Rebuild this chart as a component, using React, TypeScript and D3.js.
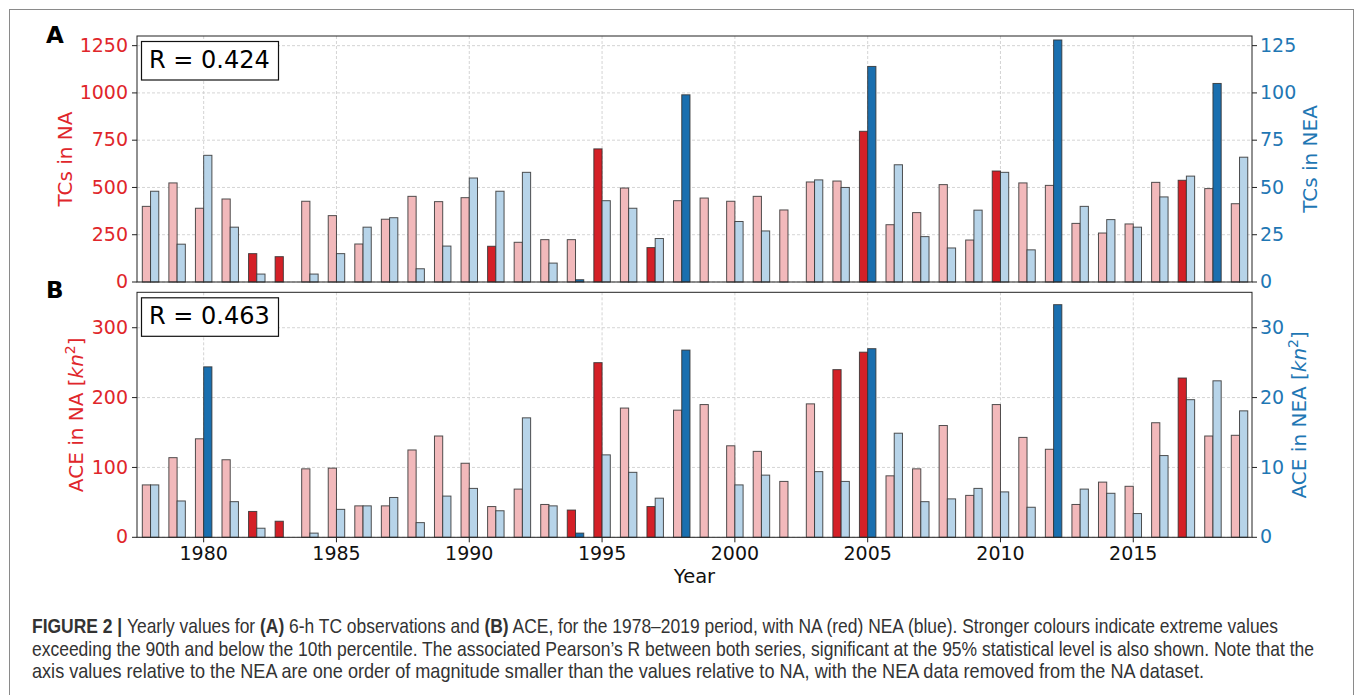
import * as d3 from "d3";

// years on the x axis
const years = [
  1978, 1979, 1980, 1981, 1982, 1983, 1984, 1985, 1986, 1987, 1988, 1989,
  1990, 1991, 1992, 1993, 1994, 1995, 1996, 1997, 1998, 1999,
  2000, 2001, 2002, 2003, 2004, 2005, 2006, 2007, 2008, 2009,
  2010, 2011, 2012, 2013, 2014, 2015, 2016, 2017, 2018, 2019,
];

// panel A: 6-h TC observations
const tcsNA = [
  400, 524, 390, 439, 150, 134, 427, 351, 201, 332, 453, 425,
  446, 189, 210, 224, 224, 704, 497, 182, 430, 444,
  427, 453, 381, 529, 534, 797, 303, 367, 515, 222,
  587, 524, 511, 310, 259, 307, 527, 538, 494, 414,
];
const tcsNEA = [
  48, 20, 67, 29, 4.2, 0, 4.2, 15, 29, 34, 7, 19,
  55, 48, 58, 10, 1.2, 43, 39, 23, 99, 0,
  32, 27, 0, 54, 50, 114, 62, 24, 18, 38,
  58, 17, 128, 40, 33, 29, 45, 56, 105, 66,
];
const tcsNAStrong = [1982, 1983, 1991, 1995, 1997, 2005, 2010, 2017];
const tcsNEAStrong = [1994, 1998, 2005, 2012, 2018];

// panel B: ACE
const aceNA = [
  75, 114, 141, 111, 37, 23, 98, 99, 45, 45, 125, 145,
  106, 44, 69, 47, 39, 250, 185, 44, 182, 190,
  131, 123, 80, 191, 240, 265, 88, 98, 160, 60,
  190, 143, 126, 47, 79, 73, 164, 228, 145, 146,
];
const aceNEA = [
  7.5, 5.2, 24.4, 5.1, 1.3, 0, 0.6, 4.0, 4.5, 5.7, 2.1, 5.9,
  7.0, 3.8, 17.1, 4.5, 0.6, 11.8, 9.3, 5.6, 26.8, 0,
  7.5, 8.9, 0, 9.4, 8.0, 27.0, 14.9, 5.1, 5.5, 7.0,
  6.5, 4.3, 33.3, 6.9, 6.3, 3.4, 11.7, 19.7, 22.4, 18.1,
];
const aceNAStrong = [1982, 1983, 1994, 1995, 1997, 2004, 2005, 2017];
const aceNEAStrong = [1980, 1994, 1998, 2005, 2012];

// ticks
const xTicks = [1980, 1985, 1990, 1995, 2000, 2005, 2010, 2015];
const tcsLeftTicks = [0, 250, 500, 750, 1000, 1250];
const tcsRightTicks = [0, 25, 50, 75, 100, 125];
const aceLeftTicks = [0, 100, 200, 300];
const aceRightTicks = [0, 10, 20, 30];

const captionLines = [
  [
    { t: "FIGURE 2 | ", b: true },
    { t: "Yearly values for ", b: false },
    { t: "(A)", b: true },
    { t: " 6-h TC observations and ", b: false },
    { t: "(B)", b: true },
    { t: " ACE, for the 1978\u20132019 period, with NA (red) NEA (blue). Stronger colours indicate extreme values", b: false },
  ],
  [{ t: "exceeding the 90th and below the 10th percentile. The associated Pearson\u2019s R between both series, significant at the 95% statistical level is also shown. Note that the", b: false }],
  [{ t: "axis values relative to the NEA are one order of magnitude smaller than the values relative to NA, with the NEA data removed from the NA dataset.", b: false }],
];
const captionLengths = [1246, 1282, 1172];

const RED = "#e0262b";
const BLUE = "#1f77b4";
const PINK = "#f2b9bb";
const STRONG_RED = "#d42027";
const LIGHT_BLUE = "#b7d4e9";
const STRONG_BLUE = "#1a6faf";
const FONT = "'DejaVu Sans', sans-serif";

const left = 137;
const right = 1252;
const barW = 0.31;
const x = d3.scaleLinear().domain([1977.49, 2019.47]).range([left, right]);

function AceLabel({ name }) {
  return (
    <>
      <tspan>{`ACE in ${name} [`}</tspan>
      <tspan fontStyle="italic">kn</tspan>
      <tspan dy={-8} fontSize={14}>2</tspan>
      <tspan dy={8}>]</tspan>
    </>
  );
}

function Panel({ top, bottom, na, nea, naStrong, neaStrong, lMax, rMax, lTicks, rTicks, rText, letter, letterY, boxY, showX, lLabelX, rLabelX, lLabel, rLabel }) {
  const yL = d3.scaleLinear().domain([0, lMax]).range([bottom, top]);
  const yR = d3.scaleLinear().domain([0, rMax]).range([bottom, top]);
  const mid = (top + bottom) / 2;

  return (
    <g>
      {/* grid */}
      {lTicks.map((d) => (
        <line key={"gy" + d} x1={left} x2={right} y1={yL(d)} y2={yL(d)} stroke="#cfcfcf" strokeWidth={0.9} strokeDasharray="3,2" />
      ))}
      {xTicks.map((d) => (
        <line key={"gx" + d} x1={x(d)} x2={x(d)} y1={top} y2={bottom} stroke="#cfcfcf" strokeWidth={0.9} strokeDasharray="3,2" />
      ))}

      {/* bars */}
      {years.map((yr, i) => (
        <rect
          key={"na" + yr}
          x={x(yr - barW)}
          width={x(yr) - x(yr - barW)}
          y={yL(na[i])}
          height={bottom - yL(na[i])}
          fill={naStrong.includes(yr) ? STRONG_RED : PINK}
          stroke="#333"
          strokeOpacity={0.85}
          strokeWidth={1}
        />
      ))}
      {years.map((yr, i) => (
        <rect
          key={"nea" + yr}
          x={x(yr)}
          width={x(yr + barW) - x(yr)}
          y={yR(nea[i])}
          height={bottom - yR(nea[i])}
          fill={neaStrong.includes(yr) ? STRONG_BLUE : LIGHT_BLUE}
          stroke="#333"
          strokeOpacity={0.85}
          strokeWidth={1}
        />
      ))}

      {/* spines */}
      <rect x={left} y={top} width={right - left} height={bottom - top} fill="none" stroke="#222" strokeWidth={1} />

      {/* left axis */}
      {lTicks.map((d) => (
        <g key={"lt" + d} transform={`translate(${left},${yL(d)})`}>
          <line x1={-5} x2={0} stroke="#222" />
          <text x={-9} dy="0.32em" textAnchor="end" fill={RED} fontFamily={FONT} fontSize={19}>{d}</text>
        </g>
      ))}
      {/* right axis */}
      {rTicks.map((d) => (
        <g key={"rt" + d} transform={`translate(${right},${yR(d)})`}>
          <line x1={0} x2={5} stroke="#222" />
          <text x={8} dy="0.32em" textAnchor="start" fill={BLUE} fontFamily={FONT} fontSize={19}>{d}</text>
        </g>
      ))}
      {/* bottom axis */}
      {showX &&
        xTicks.map((d) => (
          <g key={"xt" + d} transform={`translate(${x(d)},${bottom})`}>
            <line y1={0} y2={5} stroke="#222" />
            <text y={22.7} textAnchor="middle" fill="#111" fontFamily={FONT} fontSize={19}>{d}</text>
          </g>
        ))}

      {/* axis labels */}
      <text transform={`translate(${lLabelX},${mid}) rotate(-90)`} textAnchor="middle" fill={RED} fontFamily={FONT} fontSize={20}>
        {lLabel}
      </text>
      <text transform={`translate(${rLabelX},${mid}) rotate(-90)`} textAnchor="middle" fill={BLUE} fontFamily={FONT} fontSize={20}>
        {rLabel}
      </text>

      {/* panel letter */}
      <text x={46} y={letterY} fill="#000" fontFamily={FONT} fontWeight="bold" fontSize={23}>{letter}</text>

      {/* R box */}
      <rect x={141.5} y={boxY + 0.5} width={137} height={38.5} fill="#fff" stroke="#111" strokeWidth={1.2} />
      <text x={149} y={boxY + 26.5} fill="#000" fontFamily={FONT} fontSize={24}>{rText}</text>
    </g>
  );
}

export default function App() {
  return (
    <svg width={1355} height={695} style={{ position: "absolute", left: 0, top: 0, background: "#fff" }}>
      {/* outer frame */}
      <rect x={9.5} y={9.5} width={1344} height={720} fill="none" stroke="#8a8a8a" strokeWidth={1} />

      <Panel
        top={36}
        bottom={282}
        na={tcsNA}
        nea={tcsNEA}
        naStrong={tcsNAStrong}
        neaStrong={tcsNEAStrong}
        lMax={1301}
        rMax={130.1}
        lTicks={tcsLeftTicks}
        rTicks={tcsRightTicks}
        rText="R = 0.424"
        letter="A"
        letterY={43}
        boxY={41}
        showX={false}
        lLabelX={72}
        rLabelX={1317}
        lLabel="TCs in NA"
        rLabel="TCs in NEA"
      />
      <Panel
        top={292.3}
        bottom={537.3}
        na={aceNA}
        nea={aceNEA}
        naStrong={aceNAStrong}
        neaStrong={aceNEAStrong}
        lMax={350.7}
        rMax={35.07}
        lTicks={aceLeftTicks}
        rTicks={aceRightTicks}
        rText="R = 0.463"
        letter="B"
        letterY={298}
        boxY={297.3}
        showX={true}
        lLabelX={83}
        rLabelX={1306}
        lLabel={<AceLabel name="NA" />}
        rLabel={<AceLabel name="NEA" />}
      />

      {/* x label */}
      <text x={(left + right) / 2} y={583} textAnchor="middle" fill="#111" fontFamily={FONT} fontSize={19.5}>Year</text>

      {/* caption */}
      {captionLines.map((parts, i) => (
        <text
          key={"cap" + i}
          x={32}
          y={633 + i * 22.5}
          fill="#333"
          textLength={captionLengths[i]}
          lengthAdjust="spacingAndGlyphs"
          fontFamily="'Liberation Sans', Arial, sans-serif"
          fontSize={21}
        >
          {parts.map((p, j) => (
            <tspan key={j} fontWeight={p.b ? "bold" : "normal"}>{p.t}</tspan>
          ))}
        </text>
      ))}
    </svg>
  );
}
